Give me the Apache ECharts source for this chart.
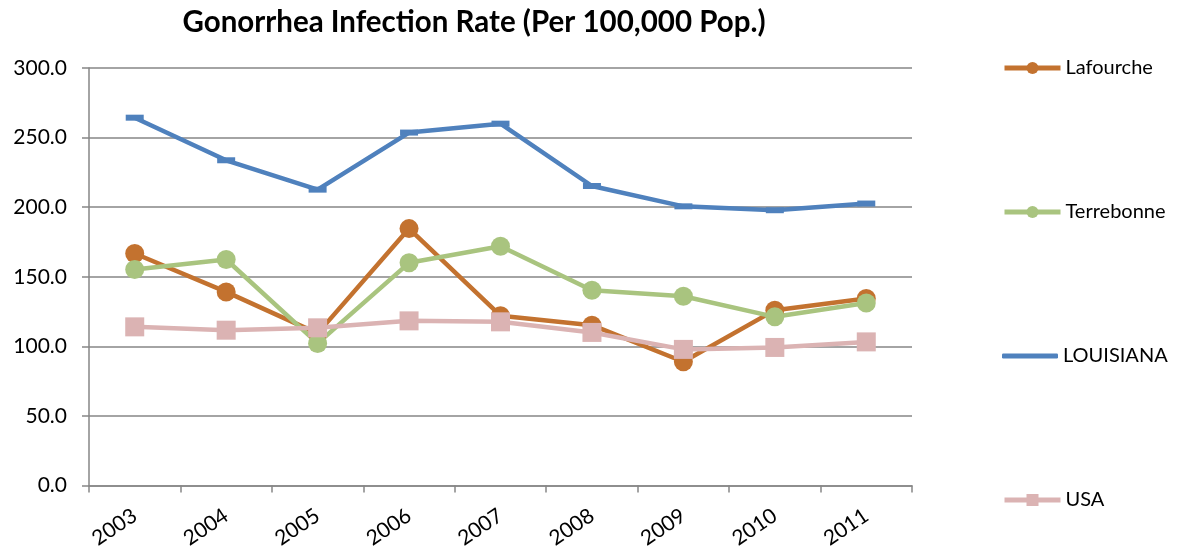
<!DOCTYPE html>
<html>
<head>
<meta charset="utf-8">
<script src="https://cdn.jsdelivr.net/npm/echarts@6/dist/echarts.min.js"></script>
<style>
  html, body { margin: 0; padding: 0; background: #fff; }
  #chart { width: 1178px; height: 556px; }
</style>
</head>
<body>
<div id="chart"></div>
<script>
// Gonorrhea infection rate per 100,000 population, 2003–2011
const years = ['2003', '2004', '2005', '2006', '2007', '2008', '2009', '2010', '2011'];
const lafourche = [166.7, 139.1, 109.3, 184.6, 122.0, 115.2, 88.9, 126.0, 134.4];
const terrebonne = [155.2, 162.4, 102.1, 160.0, 171.9, 140.3, 136.0, 121.2, 131.2];
const louisiana = [264.3, 233.7, 212.6, 253.6, 260.0, 215.2, 200.6, 197.8, 202.6];
const usa = [114.0, 111.6, 113.3, 118.3, 117.6, 110.0, 97.8, 99.2, 103.2];
const yTicks = [0, 50, 100, 150, 200, 250, 300];

const FONT = 'Lato, "Noto Sans", sans-serif';
const GRAY = '#868686';
const COLORS = {
  Lafourche: '#C3722F',
  Terrebonne: '#A9C47F',
  LOUISIANA: '#4F81BD',
  USA: '#DBB3B3'
};

function legendFor(name, top, extra) {
  return Object.assign({
    data: [name],
    left: 1002,
    top: top,
    padding: 0,
    orient: 'vertical',
    itemWidth: 56,
    itemHeight: 15,
    itemGap: 0,
    selectedMode: false,
    lineStyle: { width: 5 },
    textStyle: { fontFamily: FONT, fontSize: 20, color: '#000' }
  }, extra || {});
}

const chart = echarts.init(document.getElementById('chart'), null, { renderer: 'canvas' });
chart.setOption({
  animation: false,
  backgroundColor: '#fff',
  title: {
    text: 'Gonorrhea Infection Rate (Per 100,000 Pop.)',
    left: 469,
    textAlign: 'center',
    top: 2,
    textStyle: { fontFamily: FONT, fontSize: 29.5, fontWeight: 'bold', color: '#000' }
  },
  legend: [
    legendFor('Lafourche', 58),
    legendFor('Terrebonne', 202),
    legendFor('LOUISIANA', 346, { icon: 'roundRect', itemHeight: 5 }),
    legendFor('USA', 490)
  ],
  grid: { left: 89, right: 266, top: 68, bottom: 70.5, containLabel: false },
  xAxis: {
    type: 'category',
    data: years,
    boundaryGap: true,
    axisLine: { show: true, lineStyle: { color: GRAY, width: 1.5 } },
    axisTick: { show: true, alignWithLabel: false, length: 7, lineStyle: { color: GRAY, width: 1.5 } },
    axisLabel: { rotate: 34, fontFamily: FONT, fontSize: 21, color: '#000', margin: 28 },
    splitLine: { show: false }
  },
  yAxis: {
    type: 'value',
    min: yTicks[0],
    max: yTicks[yTicks.length - 1],
    interval: yTicks[1] - yTicks[0],
    axisLine: { show: true, lineStyle: { color: GRAY, width: 1.5 } },
    axisTick: { show: true, inside: false, length: 7, lineStyle: { color: GRAY, width: 1.5 } },
    axisLabel: {
      fontFamily: FONT, fontSize: 21, color: '#000', margin: 22,
      formatter: v => v.toFixed(1)
    },
    splitLine: { show: true, lineStyle: { color: GRAY, width: 1.5 } }
  },
  series: [
    {
      name: 'Lafourche', type: 'line', data: lafourche,
      symbol: 'circle', symbolSize: 19,
      lineStyle: { color: COLORS.Lafourche, width: 4.5 },
      itemStyle: { color: COLORS.Lafourche }
    },
    {
      name: 'Terrebonne', type: 'line', data: terrebonne,
      symbol: 'circle', symbolSize: 19,
      lineStyle: { color: COLORS.Terrebonne, width: 4.5 },
      itemStyle: { color: COLORS.Terrebonne }
    },
    {
      name: 'LOUISIANA', type: 'line', data: louisiana,
      symbol: 'rect', symbolSize: [18, 6],
      lineStyle: { color: COLORS.LOUISIANA, width: 4.5 },
      itemStyle: { color: COLORS.LOUISIANA }
    },
    {
      name: 'USA', type: 'line', data: usa,
      symbol: 'rect', symbolSize: 19,
      lineStyle: { color: COLORS.USA, width: 4.5 },
      itemStyle: { color: COLORS.USA }
    }
  ]
});
</script>
</body>
</html>
